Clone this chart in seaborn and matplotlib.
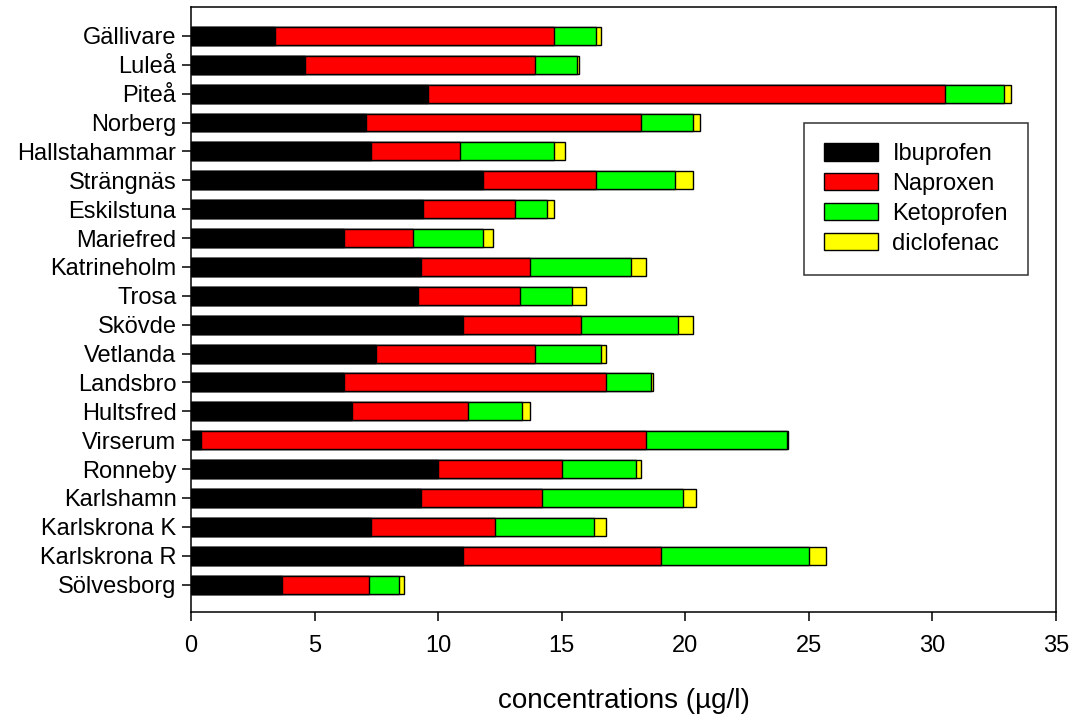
# Stacked horizontal bar chart of NSAID concentrations per site
import numpy as np
import matplotlib
matplotlib.use("Agg")
import matplotlib.pyplot as plt
import seaborn as sns
import pandas as pd

sns.set_style("ticks")
plt.rcParams['font.family'] = ['Liberation Sans', 'DejaVu Sans']
plt.rcParams.update({'text.color': 'black', 'axes.labelcolor': 'black',
                     'xtick.color': 'black', 'ytick.color': 'black'})

# Sites, top to bottom
sites = ['Gällivare', 'Luleå', 'Piteå', 'Norberg', 'Hallstahammar', 'Strängnäs',
         'Eskilstuna', 'Mariefred', 'Katrineholm', 'Trosa', 'Skövde', 'Vetlanda',
         'Landsbro', 'Hultsfred', 'Virserum', 'Ronneby', 'Karlshamn',
         'Karlskrona K', 'Karlskrona R', 'Sölvesborg']

# Concentrations (µg/l)
ibuprofen = [3.4, 4.6, 9.6, 7.1, 7.3, 11.8, 9.4, 6.2, 9.3, 9.2, 11.0, 7.5,
             6.2, 6.5, 0.4, 10.0, 9.3, 7.3, 11.0, 3.7]
naproxen = [11.3, 9.3, 20.9, 11.1, 3.6, 4.6, 3.7, 2.8, 4.4, 4.1, 4.8, 6.4,
            10.6, 4.7, 18.0, 5.0, 4.9, 5.0, 8.0, 3.5]
ketoprofen = [1.7, 1.7, 2.4, 2.1, 3.8, 3.2, 1.3, 2.8, 4.1, 2.1, 3.9, 2.7,
              1.8, 2.2, 5.7, 3.0, 5.7, 4.0, 6.0, 1.2]
diclofenac = [0.2, 0.1, 0.3, 0.3, 0.45, 0.7, 0.3, 0.4, 0.6, 0.6, 0.6, 0.2,
              0.1, 0.3, 0.05, 0.2, 0.55, 0.5, 0.7, 0.2]

df = pd.DataFrame({'site': sites, 'Ibuprofen': ibuprofen, 'Naproxen': naproxen,
                   'Ketoprofen': ketoprofen, 'diclofenac': diclofenac})

# Cumulative sums so the bars can "stack" (drawn back to front)
ibu = df['Ibuprofen']
ibu_nap = ibu + df['Naproxen']
ibu_nap_keto = ibu_nap + df['Ketoprofen']
total = ibu_nap_keto + df['diclofenac']

fig, ax = plt.subplots(figsize=(10.75, 7.17), dpi=100)
fig.subplots_adjust(left=0.1777, right=0.9823, top=0.9902, bottom=0.1464)

bar_kw = dict(orient='h', width=0.62, edgecolor='black', linewidth=1.0, ax=ax)
sns.barplot(x=total, y=df['site'], color='#ffff00', saturation=1, label='diclofenac', **bar_kw)
sns.barplot(x=ibu_nap_keto, y=df['site'], color='#00ff00', saturation=1, label='Ketoprofen', **bar_kw)
sns.barplot(x=ibu_nap, y=df['site'], color='#ff0000', saturation=1, label='Naproxen', **bar_kw)
sns.barplot(x=ibu, y=df['site'], color='black', saturation=1, label='Ibuprofen', **bar_kw)

ax.set_xlim(0, 35)
ax.set_ylim(19.95, -1.0)
ax.set_xticks(np.arange(0, 36, 5))
ax.set_ylabel('')
ax.set_xlabel('concentrations (µg/l)', fontsize=20, labelpad=22)
ax.tick_params(axis='both', labelsize=17, length=6.5, width=1.1, color='black')
ax.tick_params(axis='x', pad=10)
ax.tick_params(axis='y', pad=4)
for s in ax.spines.values():
    s.set_visible(True)
    s.set_linewidth(1.1)
    s.set_color('black')

handles, labels = ax.get_legend_handles_labels()
leg = ax.legend(handles[::-1], labels[::-1], loc='upper right',
                bbox_to_anchor=(0.9676, 0.808), fontsize=17, frameon=True,
                fancybox=False, edgecolor='black', handlelength=2.3,
                handleheight=0.75, handletextpad=0.6, labelspacing=0.33,
                borderpad=0.85, borderaxespad=0)
leg.get_frame().set_linewidth(1.1)

fig.savefig('out.png', dpi=100)
